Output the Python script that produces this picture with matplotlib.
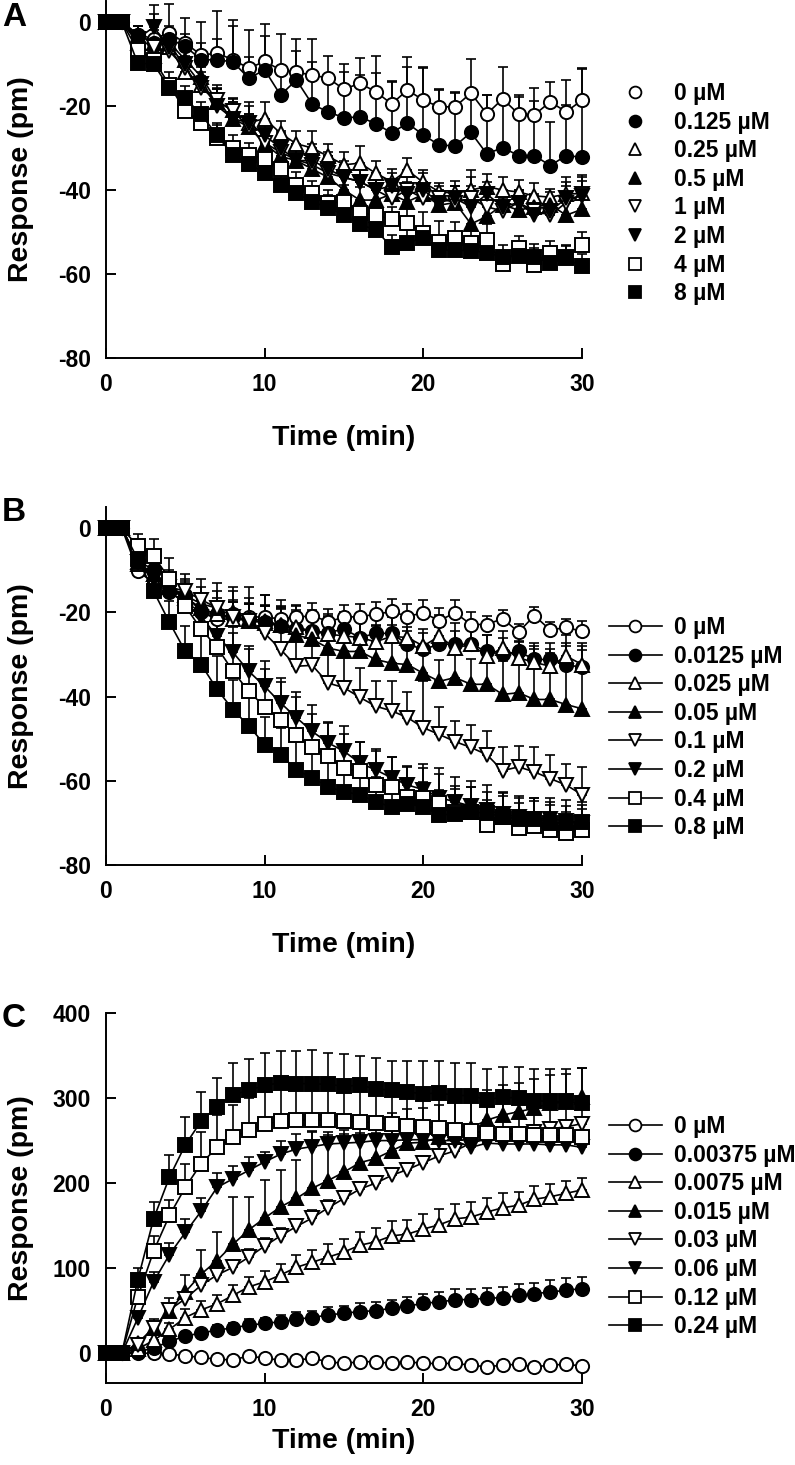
import numpy as np
import matplotlib
matplotlib.use('Agg')
import matplotlib.pyplot as plt
from matplotlib.lines import Line2D

plt.rcParams['font.family'] = ['Liberation Sans', 'DejaVu Sans']
plt.rcParams['font.weight'] = 'bold'
plt.rcParams['axes.unicode_minus'] = False

t = np.arange(31)

### panel A
labels_a = ['0 µM', '0.125 µM', '0.25 µM', '0.5 µM', '1 µM', '2 µM', '4 µM', '8 µM']
a0 = [0, 0, -3, -4, -2.6, -5, -7.9, -7.4, -9, -11, -9.4, -11.4, -12, -12.6, -13.4, -16, -14.6, -16.6, -19.5, -16.2, -18.6, -20.2, -20.2, -16.9, -21.9, -18.3, -21.9, -22.1, -19, -21.4, -18.6]
a1 = [0, 0, -3, -5, -4, -5.8, -9, -9, -9.5, -13.4, -11.4, -17.4, -13.8, -19.6, -21.4, -22.8, -22.6, -24.2, -26.4, -24.1, -26.9, -29.3, -29.5, -26.3, -31.4, -29.9, -31.8, -31.8, -34.2, -31.8, -32.2]
a2 = [0, 0, -5, -8, -6, -12, -15, -19, -21, -24, -23, -26.5, -29, -30, -32, -34, -33.6, -36, -38, -35.3, -38.2, -40.4, -40.8, -40, -39.2, -40, -40.5, -41.4, -41.7, -41, -40.8]
a3 = [0, 0, -3, -5, -5, -9, -13, -19, -23, -25, -29, -32, -33, -35, -37, -40, -42.4, -42.4, -41, -42.8, -41, -43.6, -43, -48.1, -46.3, -43.5, -44.8, -44, -43.5, -46, -44.6]
a4 = [0, 0, -4, -6, -7, -11, -15.8, -18.6, -21.3, -24.9, -28.8, -31, -32.8, -34, -36, -37, -38, -40, -42, -40, -42, -42, -43, -42, -44, -45, -43, -45, -46, -43, -41]
a5 = [0, 0, -4, -1.2, -6, -10, -14.8, -20, -23, -24, -27, -30, -33, -33, -35, -37, -38, -40, -39, -41, -40, -43, -42, -44, -41, -44, -43, -46, -45, -42, -41.5]
a6 = [0, 0, -6.7, -9, -15, -21.3, -24, -27.5, -30, -31.7, -32.5, -35, -38.8, -40.8, -43, -42.8, -45.5, -46, -47, -47.8, -50.3, -52.3, -51.5, -52.7, -52, -57.5, -53.9, -57.8, -55.1, -56, -53.1]
a7 = [0, 0, -9.8, -10, -15.8, -18.2, -22, -27, -31.7, -33.7, -36, -38.8, -40.8, -42.8, -44.2, -45.9, -48.2, -49.5, -53.6, -52.5, -51.5, -54.3, -54.3, -54.5, -54.9, -56, -55.7, -55.9, -57.4, -56.3, -58.2]
ea0 = [0, 0, 2, 8, 7, 6, 8, 10, 8, 9, 9, 8.5, 8, 8.6, 5.4, 6, 6, 8.5, 5.5, 7.9, 8, 4.2, 3.5, 8.2, 4.5, 7.7, 4.5, 6.5, 4.6, 7.7, 7.6]
ea1 = [0, 0, 2, 3, 3, 3, 4, 5, 10, 5, 8, 6, 7, 10, 8, 11, 10, 12, 12, 13.5, 16, 13, 12.6, 10, 14, 12, 14, 13, 10.4, 12, 21]
ea2 = [0, 0, 2, 2, 3, 3, 3, 4, 3, 4, 4, 3, 3, 4, 3, 3, 4, 3, 3, 3, 3, 2, 3, 3, 3, 3, 3, 3, 2, 3, 3]
ea3 = [0, 0, 2, 2, 2, 3, 3, 3, 4, 3, 3, 4, 3, 3, 3, 4, 3, 5, 3, 4, 3, 3, 4, 12.8, 3, 3, 4, 3, 3, 4, 4]
ea4 = [0, 0, 2, 2, 3, 3, 3, 3, 3, 3, 3, 3, 3, 3, 4, 3, 3, 3, 3, 3, 3, 3, 4, 3, 3, 3, 3, 3, 3, 4, 4]
ea5 = [0, 0, 2, 3, 3, 3, 4, 4, 4, 5, 4, 4, 4, 4, 4, 4, 3, 4, 3, 3, 4, 3, 3, 4, 3, 3, 3, 3, 3, 5, 5]
ea6 = [0, 0, 2, 2, 3, 3, 3, 3, 3, 3, 3, 3, 3, 3, 3, 4, 3, 3, 3, 4, 5, 5, 4, 3, 4, 3, 3, 4, 3, 3, 3]
ea7 = [0, 0, 2, 3, 2, 3, 3, 3, 3, 3, 3, 3, 3, 3, 3, 3, 3, 3, 3, 3, 3, 3, 3, 3, 3, 3, 3, 3, 2, 3, 3]

### panel B
labels_b = ['0 µM', '0.0125 µM', '0.025 µM', '0.05 µM', '0.1 µM', '0.2 µM', '0.4 µM', '0.8 µM']
b0 = [0, 0, -10.2, -13, -15.2, -17.6, -20, -21.6, -20.5, -21, -21.2, -21.5, -21.2, -20.8, -22.2, -21.2, -21, -20.5, -19.8, -21, -20.1, -22, -20.1, -22.9, -22.9, -21.5, -24.7, -20.8, -24.2, -23.6, -24.5]
b1 = [0, 0, -7.9, -9.8, -15, -16, -19.8, -20.5, -21, -21.7, -22.4, -23.3, -24, -24.5, -24.8, -24, -26, -25, -25, -27.6, -28.8, -27.6, -27.6, -27.6, -29.3, -30, -29.3, -31.2, -31.2, -32.4, -33.1]
b2 = [0, 0, -8.5, -11, -14, -16.5, -19, -20.5, -21.5, -22, -22.5, -23, -23.5, -24.5, -25.2, -25.6, -26, -27, -25.7, -26, -28, -25.7, -28.5, -27.6, -30.4, -28.5, -30.8, -31.9, -32.8, -30.4, -32.4]
b3 = [0, 0, -8, -11, -14, -16, -18, -19, -20, -21.5, -22, -23, -25.4, -26.4, -28.5, -29.3, -29.3, -31.2, -32.1, -32.4, -34.5, -36.4, -35.5, -37.1, -37.1, -39.5, -39.1, -40.7, -40.7, -41.9, -42.9]
b4 = [0, 0, -8, -12, -14, -15, -17, -19, -21, -22, -25, -28.8, -32.8, -32.6, -36.8, -37.9, -40.2, -42.3, -43.4, -45, -47.4, -49, -50.7, -52.1, -53.8, -57.6, -56.7, -57.9, -59.5, -61, -63.3]
b5 = [0, 0, -8, -12, -15, -18, -21, -25.7, -29.5, -34, -37.6, -41.5, -45, -48.3, -51, -53, -55.8, -57.4, -59.3, -61, -62.1, -64, -65, -66, -67, -68, -68.5, -69, -69, -69.5, -70]
b6 = [0, 0, -4.3, -6.7, -12, -18.6, -24, -28.3, -34, -38.8, -42.4, -45.5, -49.2, -52.1, -54.2, -57, -57.8, -61, -61.4, -63.8, -64, -65.3, -67.3, -67.5, -70.5, -68.6, -71.3, -70.7, -71.7, -72.4, -71.7]
b7 = [0, 0, -7.4, -15, -22.4, -29.3, -32.4, -38.3, -43.1, -47, -51.4, -53.8, -57.4, -59.3, -61.4, -62.6, -63.3, -65, -66.2, -65.5, -66.2, -68.1, -67.9, -67.5, -67.6, -68.6, -69, -69, -70, -70, -69.8]
eb0 = [0, 0, 2, 2, 2, 3, 3, 3, 3, 3, 3, 3, 3, 3, 3, 3, 3, 3, 3, 3, 3, 3, 3, 3, 2, 2, 2, 2, 2, 2, 2.5]
eb1 = [0, 0, 2, 3, 3, 3, 3, 4, 4, 4, 4, 4, 4, 4, 4, 4, 5, 4, 4, 4, 4, 4, 5, 4, 4, 4, 4, 4, 4, 5, 5]
eb2 = [0, 0, 2, 3, 3, 3, 3, 3, 4, 4, 4, 4, 4, 4, 4, 4, 4, 4, 5, 4, 4, 5, 4, 4, 5, 4, 4, 4, 4, 5, 5]
eb3 = [0, 0, 3, 3, 3, 4, 4, 4, 5, 5, 6, 6, 7, 7, 8, 8, 8, 8, 9, 8, 6, 5, 6, 6, 7, 8, 12, 12, 11, 14, 14]
eb4 = [0, 0, 3, 3, 4, 4, 5, 6, 7, 8, 9, 10, 10, 9, 8, 8, 7, 6, 7, 6, 11, 6.6, 5, 5.4, 5.5, 5.7, 5, 5.8, 5.5, 5, 6.6]
eb5 = [0, 0, 3, 3, 4, 4, 5, 5, 6, 6, 6, 6, 6, 6.4, 5, 6, 5, 5, 5, 4.4, 6, 7, 6, 6, 6, 5, 5, 5, 5, 5, 5]
eb6 = [0, 0, 3, 4, 5, 6, 7, 8, 9, 10, 9, 9, 9, 8, 8, 8, 7, 8, 7, 7, 7, 7, 6, 6, 6, 6, 6, 6, 6, 5, 5]
eb7 = [0, 0, 3, 4, 5, 6, 7, 8, 7, 7, 6.6, 6.4, 8, 7, 7, 7, 6, 6, 6, 6, 6, 6, 6, 6, 5, 5, 5, 5, 5, 4, 4]

### panel C
labels_c = ['0 µM', '0.00375 µM', '0.0075 µM', '0.015 µM', '0.03 µM', '0.06 µM', '0.12 µM', '0.24 µM']
c0 = [0, 0, 0, 0, -1, -3, -5, -7, -8, -3, -6, -8, -8, -6, -10, -12, -10, -10, -12, -10, -12, -12, -12, -14, -16, -14, -13, -16, -14, -13, -15]
c1 = [0, 0, 2, 6, 14, 20, 24, 27, 30, 33, 35, 37, 40, 42, 45, 47, 49, 50, 53, 55, 59, 60, 63, 63, 65, 65, 68, 70, 72, 74, 76]
c2 = [0, 0, 5, 15, 28, 42, 51, 58, 68, 78, 84, 92, 101, 107, 113, 119, 127, 131, 138, 140, 146, 151, 158, 160, 166, 171, 174, 181, 184, 188, 192]
c3 = [0, 0, 12, 30, 50, 72, 93, 109, 128, 145, 159, 172, 182, 194, 203, 213, 224, 229, 238, 247, 248, 254, 259, 265, 274, 280, 284, 288, 294, 295, 301]
c4 = [0, 0, 10, 30, 51, 64, 80, 92, 101, 113, 126, 138, 149, 159, 171, 182, 193, 200, 209, 216, 224, 232, 238, 247, 252, 255, 258, 260, 264, 266, 270]
c5 = [0, 0, 41, 84, 116, 142, 167, 195, 205, 215, 225, 234, 240, 243, 246, 247, 248, 250, 250, 251, 251, 250, 250, 242, 247, 246, 246, 246, 245, 245, 242]
c6 = [0, 0, 66, 120, 162, 195, 223, 242, 254, 262, 269, 273, 274, 274, 274, 273, 272, 271, 269, 267, 266, 265, 263, 261, 259, 258, 258, 257, 256, 256, 254]
c7 = [0, 0, 86, 158, 207, 245, 273, 290, 304, 309, 315, 318, 317, 317, 316, 314, 315, 311, 309, 307, 305, 306, 303, 303, 298, 301, 300, 297, 296, 296, 294]
ec0 = [0, 0, 1, 1, 2, 2, 3, 3, 3, 3, 3, 3, 3, 3, 3, 3, 3, 3, 3, 3, 3, 3, 3, 3, 3, 3, 3, 3, 3, 3, 3]
ec1 = [0, 0, 2, 3, 4, 5, 5, 6, 6, 7, 7, 8, 8, 8, 9, 9, 10, 10, 10, 11, 11, 12, 12, 12, 12, 13, 13, 13, 14, 14, 14]
ec2 = [0, 0, 4, 6, 8, 10, 10, 11, 12, 12, 13, 13, 14, 14, 15, 15, 16, 16, 17, 17, 18, 18, 18, 18, 17, 17, 16, 16, 15, 15, 14]
ec3 = [0, 0, 5, 10, 15, 20, 28, 34, 56, 39, 45, 43, 45, 66, 54, 45, 35, 30, 45, 40, 40, 38, 38, 36, 35, 35, 34, 34, 33, 33, 34]
ec4 = [0, 0, 3, 5, 6, 7, 8, 8, 8, 9, 9, 9, 9, 9, 9, 8, 8, 8, 8, 8, 8, 8, 8, 8, 8, 8, 8, 8, 8, 8, 8]
ec5 = [0, 0, 8, 12, 14, 16, 16, 17, 15, 16, 12, 15, 18, 18, 14, 15, 16, 17, 17, 18, 18, 18, 17, 17, 16, 16, 16, 15, 15, 15, 15]
ec6 = [0, 0, 12, 18, 18, 28, 37, 38, 38, 38, 38, 38, 38, 40, 40, 40, 40, 41, 41, 42, 42, 42, 42, 42, 42, 42, 42, 42, 42, 42, 42]
ec7 = [0, 0, 14, 20, 26, 33, 34, 33, 37, 37, 38, 37, 38, 39, 37, 38, 35, 36, 35, 37, 38, 37, 38, 38, 36, 36, 37, 37, 38, 38, 41]

# marker style for each concentration (same order in every panel)
markers = ['o', 'o', '^', '^', 'v', 'v', 's', 's']
fills = ['white', 'black', 'white', 'black', 'white', 'black', 'white', 'black']

W, H = 795, 1465
fig = plt.figure(figsize=(W / 100, H / 100), dpi=100)

def px_axes(left, top, right, bottom):
    return fig.add_axes([left / W, 1 - bottom / H, (right - left) / W, (bottom - top) / H])

ax_a = px_axes(106, 1, 582, 358)
ax_b = px_axes(106, 507, 582, 865)
ax_c = px_axes(106, 1013, 582, 1383)

# (axes, series, errors, labels, ylim, yticks, legend with line, first legend row y, xlabel gap px)
panels = [
    (ax_a, [a0, a1, a2, a3, a4, a5, a6, a7], [ea0, ea1, ea2, ea3, ea4, ea5, ea6, ea7], labels_a,
     (-80, 5), [0, -20, -40, -60, -80], False, 93, 67),
    (ax_b, [b0, b1, b2, b3, b4, b5, b6, b7], [eb0, eb1, eb2, eb3, eb4, eb5, eb6, eb7], labels_b,
     (-80, 5), [0, -20, -40, -60, -80], True, 627, 67),
    (ax_c, [c0, c1, c2, c3, c4, c5, c6, c7], [ec0, ec1, ec2, ec3, ec4, ec5, ec6, ec7], labels_c,
     (-35, 400), [0, 100, 200, 300, 400], True, 1126, 45),
]

for ax, ys, es, labs, ylim, yt, legline, ytop, xgap in panels:
    for i in range(8):
        y = np.array(ys[i])
        e = np.array(es[i])
        ax.errorbar(t, y, yerr=[np.zeros_like(e), e], fmt='none', ecolor='k',
                    elinewidth=1.2, capsize=3.5, capthick=1.2, zorder=2 + i * 0.1, clip_on=False)
    for i in range(8):
        ax.plot(t, ys[i], '-', color='k', lw=1.2, marker=markers[i], ms=9.5,
                mfc=fills[i], mec='k', mew=1.4, zorder=3 + i * 0.1, clip_on=False)
    ax.set_xlim(0, 30)
    ax.set_ylim(*ylim)
    ax.set_xticks([0, 10, 20, 30])
    ax.set_yticks(yt)
    for s in ['top', 'right']:
        ax.spines[s].set_visible(False)
    for s in ['left', 'bottom']:
        ax.spines[s].set_linewidth(1.4)
    ax.tick_params(direction='in', length=7, width=1.4, labelsize=16.5, pad=11)
    ax.set_xlabel('Time (min)', fontsize=20.5, fontweight='bold')
    ax.set_ylabel('Response (pm)', fontsize=20.5, fontweight='bold')
    ax.xaxis.set_label_coords(0.5, -xgap / ax.bbox.height)
    ax.yaxis.set_label_coords(-72 / 476, 0.5)

    handles = [Line2D([], [], color='k', lw=1.2 if legline else 0,
                      linestyle='-' if legline else 'none',
                      marker=markers[i], ms=8.5, mfc=fills[i], mec='k', mew=1.3) for i in range(8)]
    ax.legend(handles, labs, loc='upper left', bbox_to_anchor=(609 / W, 1 - (ytop - 11) / H),
              bbox_transform=fig.transFigure, frameon=False, fontsize=16.5,
              handlelength=2.3, handletextpad=0.55, labelspacing=0.245,
              borderpad=0, borderaxespad=0)

for letter, ytop in [('A', 2), ('B', 497), ('C', 1003)]:
    fig.text(2 / W, 1 - ytop / H, letter, fontsize=24, fontweight='bold', va='top', ha='left')

fig.savefig('out.png', dpi=100)
